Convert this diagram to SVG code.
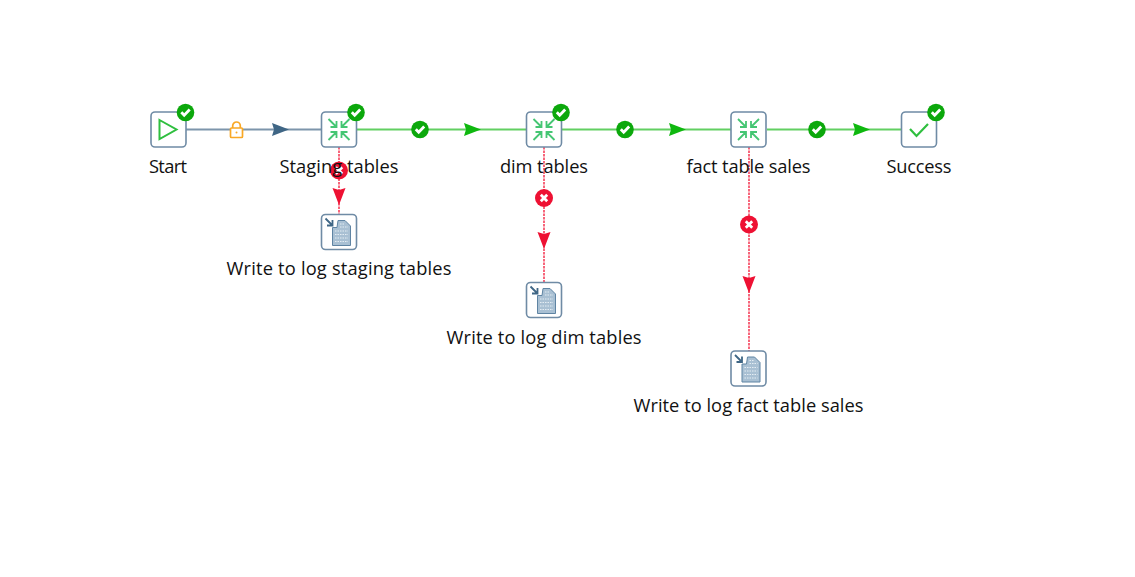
<svg xmlns="http://www.w3.org/2000/svg" width="1135" height="577" viewBox="0 0 1135 577">
<style>
.bx{fill:#fff;stroke:#6f8ba5;stroke-width:1.6}
.lb{font-family:"Open Sans","Noto Sans","Liberation Sans",sans-serif;font-size:18.300px;fill:#111;text-anchor:middle}
.hop{fill:none;stroke:#62cf62;stroke-width:2}
.hopb{fill:none;stroke:#7d95ab;stroke-width:2}
.hopr{fill:none;stroke:#f5405a;stroke-width:1.600;stroke-dasharray:2.500 1}
.ag{fill:#0fb80f}.ab{fill:#3f6685}.ar{fill:#ee1133}
.okc{fill:#0ca80c}.okm{fill:none;stroke:#fff;stroke-width:2.800}
.err{fill:#ee1133}.errm{fill:none;stroke:#fff;stroke-width:2.800}
.ic{fill:none;stroke:#45c673;stroke-width:1.800}
.doc{fill:#a9c0d3;stroke:#5f84a3;stroke-width:1}
.dl{stroke:#e4edf3;stroke-width:1;stroke-dasharray:1.500 1}
</style>
<defs>
<g id="ok"><circle r="8.800" class="okc"/><path d="M-4.200-.3-1.300 2.800 4.200-3" class="okm"/></g>
<g id="x"><circle r="9" class="err"/><path d="M-3.200-3.200 3.200 3.200M3.200-3.200-3.200 3.200" class="errm"/></g>
<g id="merge"><rect x="-17.500" y="-17.500" width="35" height="35" rx="4" class="bx"/>
<path class="ic" d="M-10.500-10.500-2.500-2.500M-2.500-8.500V-2.500H-8.500M10.500-10.500 2.500-2.500M2.500-8.500V-2.500H8.500M-10.500 10.500-2.500 2.500M-2.500 8.500V2.500H-8.500M10.500 10.500 2.500 2.500M2.500 8.500V2.500H8.500"/></g>
<g id="log"><rect x="-17.500" y="-17.500" width="35" height="35" rx="4" class="bx"/>
<path d="M-13.500-13.500-6.500-6.500M-6.500-12V-6.500H-12" fill="none" stroke="#3f6685" stroke-width="1.800"/>
<path class="doc" d="M-6.500-4.500-2-4.500-1-11.500H6L11.500-6V13.500H-6.500Z"/>
<path class="dl" d="M-4-1H9M-4 2.500H9M-4 6H9M-4 9.500H9M1-5H9M1-8H6"/></g>
<path id="ah" d="M-17-6.500 0 0-17 6.500-15 0Z"/>
<path id="av" d="M-6.500-17 0 0 6.500-17 0-15Z"/>
</defs>
<g id="connectors">
<path class="hopb" d="M186 129.500H321"/>
<use href="#ah" x="289" y="129.500" class="ab"/>
<g transform="translate(236.500 130)"><path d="M-3.800-2V-4.200A3.800 3.800 0 0 1 3.800-4.200V-2" fill="none" stroke="#f9a825" stroke-width="1.700"/><rect x="-6" y="-2" width="12" height="9.500" rx="1" fill="#fff" stroke="#f9a825" stroke-width="1.700"/><circle cy="2.500" r="1" fill="#f9a825"/></g>
<path class="hop" d="M357 129.500H526"/>
<use href="#ok" x="420" y="129.500"/>
<use href="#ah" x="481" y="129.500" class="ag"/>
<path class="hop" d="M562 129.500H731"/>
<use href="#ok" x="625" y="129.500"/>
<use href="#ah" x="686" y="129.500" class="ag"/>
<path class="hop" d="M767 129.500H901"/>
<use href="#ok" x="817" y="129.500"/>
<use href="#ah" x="870" y="129.500" class="ag"/>
<path class="hopr" d="M339 147V214"/>
<use href="#x" x="339" y="170.500"/>
<use href="#av" x="339" y="205" class="ar"/>
<path class="hopr" d="M544 147V282"/>
<use href="#x" x="544" y="198"/>
<use href="#av" x="544" y="249" class="ar"/>
<path class="hopr" d="M749 147V351"/>
<use href="#x" x="749" y="224.500"/>
<use href="#av" x="749" y="293" class="ar"/>
</g>
<g id="start"><rect x="151" y="112" width="35" height="35" rx="4" class="bx"/><path d="M159.500 120 176.500 129.500 159.500 139Z" fill="none" stroke="#2fbf3f" stroke-width="2"/><use href="#ok" x="185.500" y="112.500"/><text x="168" y="173" class="lb" textLength="38">Start</text></g>
<g id="staging"><use href="#merge" x="339" y="129.500"/><use href="#ok" x="356" y="112.500"/><text x="339" y="173" class="lb" textLength="119">Staging tables</text></g>
<g id="dim"><use href="#merge" x="544" y="129.500"/><use href="#ok" x="561" y="112.500"/><text x="544" y="173" class="lb" textLength="88">dim tables</text></g>
<g id="fact"><use href="#merge" x="748.500" y="129.500"/><text x="748.500" y="173" class="lb" textLength="124">fact table sales</text></g>
<g id="success"><rect x="901.500" y="112" width="35" height="35" rx="4" class="bx"/><path d="M910 129 916.500 136 928 124" fill="none" stroke="#2fbf3f" stroke-width="2.200"/><use href="#ok" x="936" y="112.500"/><text x="919" y="173" class="lb" textLength="65">Success</text></g>
<g id="log-staging"><use href="#log" x="339" y="232"/><text x="339" y="275" class="lb" textLength="225">Write to log staging tables</text></g>
<g id="log-dim"><use href="#log" x="544" y="300"/><text x="544" y="343.500" class="lb" textLength="195">Write to log dim tables</text></g>
<g id="log-fact"><use href="#log" x="748.500" y="368.500"/><text x="748.500" y="411.500" class="lb" textLength="230">Write to log fact table sales</text></g>
</svg>
